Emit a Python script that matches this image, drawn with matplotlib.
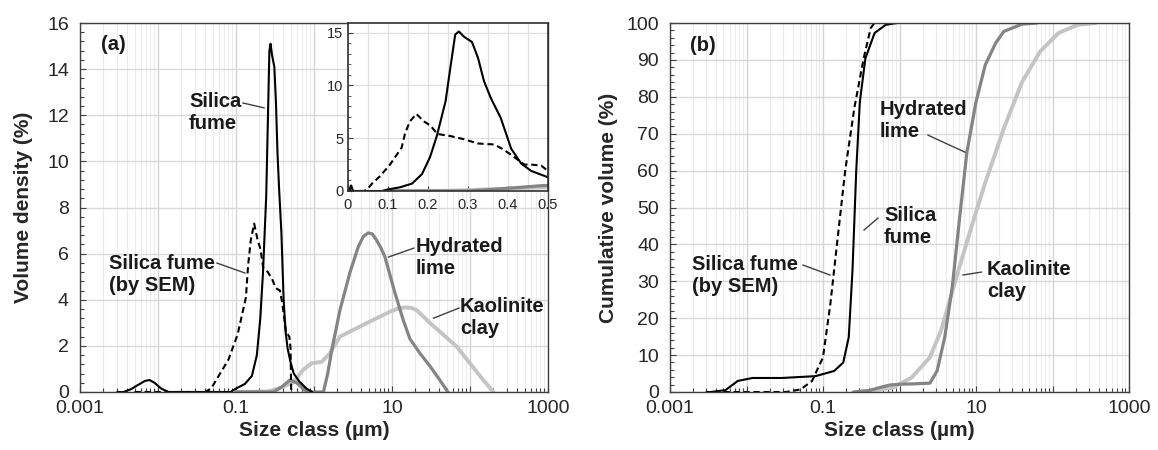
import numpy as np
import matplotlib
matplotlib.use('Agg')
import matplotlib.pyplot as plt
from matplotlib.ticker import FixedLocator, MultipleLocator, LogLocator, NullFormatter

plt.rcParams['font.family'] = ['Liberation Sans', 'DejaVu Sans']

# ---- data (size in um) ----
# volume density (%)
sf_x = [0.003, 0.0036, 0.0045, 0.0055, 0.0068, 0.0078, 0.009, 0.011, 0.0136, 0.085, 0.1, 0.13,
        0.16, 0.185, 0.205, 0.222, 0.244, 0.256, 0.268, 0.277, 0.29, 0.31, 0.325, 0.34, 0.357,
        0.382, 0.408, 0.433, 0.458, 0.5, 0.55, 0.65, 0.8, 0.95]
sf_y = [0, 0, 0.12, 0.3, 0.48, 0.52, 0.4, 0.15, 0, 0, 0.15, 0.35,
        0.7, 1.6, 3.2, 5.2, 8.5, 11.7, 14.8, 15.1, 14.6, 14.1, 12.6, 10.4, 8.8,
        6.9, 4.0, 2.6, 1.9, 1.3, 0.8, 0.45, 0.15, 0]

sem_x = [0.005, 0.04, 0.048, 0.06, 0.08, 0.105, 0.134, 0.143, 0.155, 0.171, 0.189, 0.206,
         0.223, 0.256, 0.29, 0.324, 0.366, 0.39, 0.412, 0.441, 0.458, 0.483, 0.5, 0.51]
sem_y = [0, 0, 0.15, 0.7, 1.4, 2.5, 4.1, 5.5, 6.6, 7.3, 6.6, 6.2,
         5.4, 5.2, 4.9, 4.5, 4.4, 3.9, 3.3, 2.5, 2.5, 2.4, 1.9, 0]

lime_x = [0.1, 0.3, 0.38, 0.49, 0.6, 0.75, 0.85, 1.32, 1.5, 1.69, 2.15, 2.9, 3.7, 4.3, 4.97,
          5.6, 6.3, 7.2, 8.1, 10.9, 14, 17, 22.8, 31, 41, 52]
lime_y = [0, 0, 0.2, 0.52, 0.4, 0.1, 0, 0, 0.8, 1.82, 3.55, 5.2, 6.3, 6.75, 6.9,
          6.85, 6.6, 6.25, 5.87, 4.3, 3.1, 2.3, 1.68, 1.1, 0.52, 0]

kao_x = [0.1, 0.25, 0.35, 0.45, 0.54, 0.72, 0.93, 1.26, 1.6, 2.15, 3.5, 5.7, 9.4, 12, 14.7,
         17.5, 20.7, 31, 46, 68, 100, 148, 200]
kao_y = [0, 0.02, 0.15, 0.3, 0.4, 0.95, 1.24, 1.31, 1.68, 2.4, 2.76, 3.12, 3.48, 3.62, 3.67,
         3.65, 3.55, 2.98, 2.47, 1.96, 1.24, 0.52, 0]

# cumulative volume (%)
sf_cx = [0.003, 0.0034, 0.0053, 0.0077, 0.012, 0.029, 0.08, 0.14, 0.184, 0.217, 0.243,
         0.272, 0.303, 0.358, 0.473, 0.66, 0.92]
sf_cy = [0, 0, 0.5, 3.0, 3.8, 3.8, 4.3, 5.7, 8.0, 14.8, 33, 60, 78.6, 90.4, 97.3, 99.5, 100]

sem_cx = [0.005, 0.033, 0.051, 0.072, 0.1, 0.125, 0.156, 0.195, 0.257, 0.34, 0.42, 0.47]
sem_cy = [0, 0, 0.7, 3, 9.4, 24, 42, 60, 77, 90.4, 98.6, 100]

lime_cx = [0.25, 0.4, 0.55, 0.75, 1.0, 1.5, 2.5, 3.1, 3.9, 4.9, 6.07, 7.6, 10, 13.2, 18,
           23, 40, 63]
lime_cy = [0, 0.4, 1.2, 1.9, 2.1, 2.2, 2.4, 5.7, 14.8, 28.5, 46.7, 65, 78.6, 88.6, 94.5,
           97.7, 99.7, 100]

kao_cx = [0.3, 0.47, 0.82, 1.44, 2.5, 3.5, 5.4, 8.5, 13.2, 23, 40, 69, 120, 213, 370]
kao_cy = [0, 0.4, 1.2, 3.9, 9.4, 16.7, 30.3, 44, 56.7, 71.3, 84, 92.3, 97.3, 99.5, 100]

x_ticks = [0.001, 0.01, 0.1, 1, 10, 100, 1000]
x_labels = ['0.001', '', '0.1', '', '10', '', '1000']

W, H = 1158, 450
fig = plt.figure(figsize=(W / 100, H / 100), dpi=100)


def frac(x0, y0, x1, y1):
    return [x0 / W, (H - y1) / H, (x1 - x0) / W, (y1 - y0) / H]


ax1 = fig.add_axes(frac(80, 23, 548, 392))
ax2 = fig.add_axes(frac(670, 23, 1129, 392))
axin = fig.add_axes(frac(348, 23, 548, 191))

styles = dict(
    sf=dict(color='black', lw=1.5, solid_capstyle='round', solid_joinstyle='round'),
    sem=dict(color='black', lw=1.5, dashes=(3, 1.8)),
    lime=dict(color='#848484', lw=2.3, solid_capstyle='round', solid_joinstyle='round'),
    kao=dict(color='#c4c4c4', lw=2.8, solid_capstyle='round', solid_joinstyle='round'),
)


def setup_log(ax, ymax, ymajor, yminor, ylabel, ypad):
    ax.set_xscale('log')
    ax.set_xlim(0.001, 1000)
    ax.set_ylim(0, ymax)
    ax.xaxis.set_major_locator(FixedLocator(x_ticks))
    ax.set_xticklabels(x_labels)
    ax.xaxis.set_minor_locator(LogLocator(base=10, subs=np.arange(2, 10), numticks=20))
    ax.xaxis.set_minor_formatter(NullFormatter())
    ax.yaxis.set_major_locator(MultipleLocator(ymajor))
    ax.yaxis.set_minor_locator(MultipleLocator(yminor))
    ax.grid(True, which='major', axis='y', color='#d9d9d9', lw=1.0)
    ax.grid(True, which='major', axis='x', color='#d4d4d4', lw=1.0)
    ax.grid(True, which='minor', axis='x', color='#ececec', lw=0.8)
    ax.set_axisbelow(True)
    ax.tick_params(which='both', direction='in', labelsize=14, colors='#404040',
                   labelcolor='#262626')
    ax.tick_params(which='major', length=4, width=0.8)
    ax.tick_params(which='minor', length=3, width=0.8)
    ax.tick_params(axis='y', pad=8)
    ax.tick_params(axis='x', pad=6)
    for s in ax.spines.values():
        s.set_color('#404040')
        s.set_linewidth(1.0)
    ax.set_xlabel('Size class (µm)', fontsize=15, fontweight='bold', labelpad=3, color='#262626')
    ax.set_ylabel(ylabel, fontsize=15, fontweight='bold', labelpad=ypad, color='#262626')


# ---- (a) density ----
setup_log(ax1, 16, 2, 0.4, 'Volume density (%)', 10)
ax1.plot(kao_x, kao_y, **styles['kao'])
ax1.plot(lime_x, lime_y, **styles['lime'])
ax1.plot(sem_x, sem_y, **styles['sem'])
ax1.plot(sf_x, sf_y, **styles['sf'])

lab = dict(fontsize=14.5, fontweight='bold', color='#1a1a1a', va='center', ha='left',
           linespacing=1.15)
lead = dict(color='#404040', lw=1.0)
ax1.text(0.00186, 15.05, '(a)', **lab)
ax1.text(0.025, 12.12, 'Silica\nfume', **lab)
ax1.plot([0.123, 0.229], [12.53, 12.32], **lead)
ax1.text(0.00233, 5.1, 'Silica fume\n(by SEM)', **lab)
ax1.plot([0.057, 0.130], [5.59, 5.16], **lead)
ax1.text(20.1, 5.83, 'Hydrated\nlime', **lab)
ax1.plot([19.1, 9.0], [6.24, 5.85], **lead)
ax1.text(74.5, 3.23, 'Kaolinite\nclay', **lab)
ax1.plot([72.3, 34.0], [3.64, 3.2], **lead)

# ---- inset (linear scale, 0-0.5 um) ----
axin.set_facecolor('white')
axin.plot(kao_x, kao_y, **styles['kao'])
axin.plot(lime_x, lime_y, **styles['lime'])
axin.plot(sem_x, sem_y, **styles['sem'])
axin.plot(sf_x, sf_y, **styles['sf'])
axin.set_xlim(0, 0.5)
axin.set_ylim(0, 15.9)
axin.xaxis.set_major_locator(MultipleLocator(0.1))
axin.xaxis.set_minor_locator(MultipleLocator(0.05))
axin.yaxis.set_major_locator(MultipleLocator(5))
axin.yaxis.set_minor_locator(MultipleLocator(1))
axin.xaxis.set_major_formatter(plt.FuncFormatter(lambda v, p: f'{v:g}'))
axin.grid(True, which='both', axis='x', color='#e0e0e0', lw=0.9)
axin.grid(True, which='major', axis='y', color='#e0e0e0', lw=0.9)
axin.set_axisbelow(True)
axin.tick_params(which='both', direction='in', labelsize=10.5, colors='#404040',
                 labelcolor='#262626')
axin.tick_params(axis='y', which='minor', length=2.5)
axin.tick_params(axis='x', which='minor', length=0)
axin.tick_params(axis='x', pad=5)
for s in axin.spines.values():
    s.set_color('#303030')
    s.set_linewidth(1.2)

# ---- (b) cumulative ----
setup_log(ax2, 100, 10, 2, 'Cumulative volume (%)', 6)
ax2.plot(kao_cx, kao_cy, **styles['kao'])
ax2.plot(lime_cx, lime_cy, **styles['lime'])
ax2.plot(sem_cx, sem_cy, **styles['sem'])
ax2.plot(sf_cx, sf_cy, **styles['sf'])

ax2.text(0.00182, 94.0, '(b)', **lab)
ax2.text(0.556, 73.6, 'Hydrated\nlime', **lab)
ax2.plot([2.36, 7.18], [69.6, 65.0], **lead)
ax2.text(0.627, 44.85, 'Silica\nfume', **lab)
ax2.plot([0.524, 0.344], [47.15, 43.9], **lead)
ax2.text(0.00194, 31.6, 'Silica fume\n(by SEM)', **lab)
ax2.plot([0.0548, 0.1236], [34.4, 31.7], **lead)
ax2.text(13.9, 30.2, 'Kaolinite\nclay', **lab)
ax2.plot([11.8, 6.76], [32.5, 31.7], **lead)

fig.savefig('out.png', dpi=100)
